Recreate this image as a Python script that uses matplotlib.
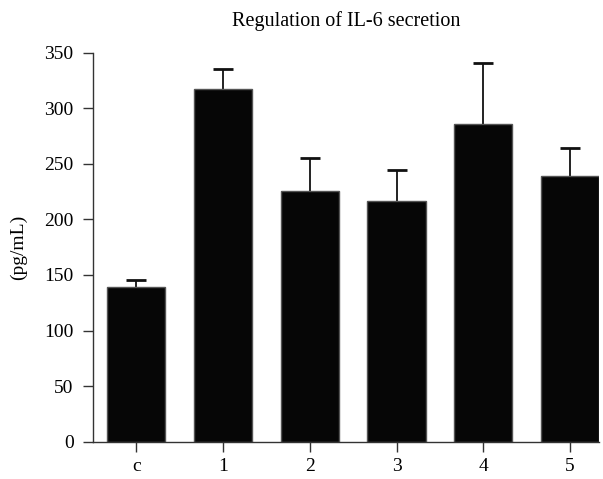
import matplotlib
matplotlib.use("Agg")
import matplotlib.pyplot as plt

categories = ["c", "1", "2", "3", "4", "5"]
values = [139, 317, 225.5, 216.5, 285.5, 239.5]
errors = [6.5, 18, 30, 28, 55.5, 24.5]
yticks = [0, 50, 100, 150, 200, 250, 300, 350]

plt.rcParams['font.family'] = ['Liberation Serif', 'DejaVu Serif']

fig = plt.figure(figsize=(6.03, 4.79), dpi=100)
ax = fig.add_axes([0.1542, 0.0779, 0.8392, 0.8121])
x = list(range(len(categories)))
ax.bar(x, values, width=0.67, color='#060606', edgecolor='#555555', linewidth=1.0, zorder=2)
_, caps, _ = ax.errorbar(x, values, yerr=[[0]*len(errors), errors], fmt='none', ecolor='#111111',
                         elinewidth=1.3, capsize=7.5, capthick=2.0, zorder=1)
caps[0].set_visible(False)
ax.set_xlim(-0.5, 5.335)
ax.set_ylim(0, 350)
ax.set_yticks(yticks)
ax.set_xticks(x)
ax.set_xticklabels(categories)
for s in ['top', 'right']:
    ax.spines[s].set_visible(False)
for s in ['left', 'bottom']:
    ax.spines[s].set_color('#333333')
    ax.spines[s].set_linewidth(1.0)
ax.tick_params(axis='both', direction='out', length=7, width=1.0, color='#333333', labelsize=14)
ax.tick_params(axis='y', pad=7)
ax.tick_params(axis='x', pad=5)
ax.set_ylabel('(pg/mL)', fontsize=14, labelpad=12)
ax.set_title('Regulation of IL-6 secretion', fontsize=14.5, pad=19)
fig.savefig('out.png', dpi=100)
